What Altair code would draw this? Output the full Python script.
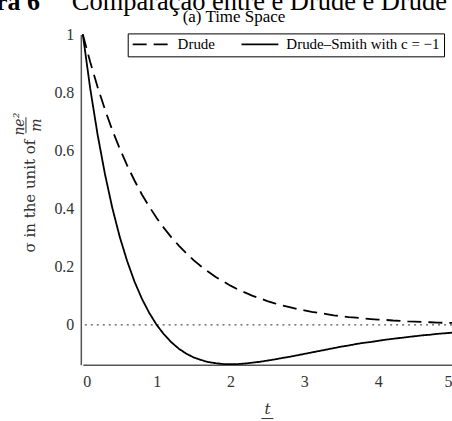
import altair as alt
import pandas as pd

t_vals = [round(i * 0.1, 1) for i in range(51)]

drude = [1.000, 0.905, 0.819, 0.741, 0.670, 0.607, 0.549, 0.497, 0.449, 0.407,
         0.368, 0.333, 0.301, 0.273, 0.247, 0.223, 0.202, 0.183, 0.165, 0.150,
         0.135, 0.122, 0.111, 0.100, 0.091, 0.082, 0.074, 0.067, 0.061, 0.055,
         0.050, 0.045, 0.041, 0.037, 0.033, 0.030, 0.027, 0.025, 0.022, 0.020,
         0.018, 0.017, 0.015, 0.014, 0.012, 0.011, 0.010, 0.009, 0.008, 0.007,
         0.007]

drude_smith = [1.000, 0.814, 0.655, 0.519, 0.402, 0.303, 0.220, 0.149, 0.090, 0.041,
               0.000, -0.033, -0.060, -0.082, -0.099, -0.112, -0.121, -0.128, -0.132, -0.135,
               -0.135, -0.135, -0.133, -0.130, -0.127, -0.123, -0.119, -0.114, -0.110, -0.105,
               -0.100, -0.095, -0.090, -0.085, -0.080, -0.075, -0.071, -0.066, -0.062, -0.059,
               -0.055, -0.051, -0.048, -0.045, -0.042, -0.039, -0.036, -0.034, -0.031, -0.029,
               -0.027]

series_names = ["Drude", "Drude\u2013Smith with c = \u22121"]
x_ticks = [0, 1, 2, 3, 4, 5]
y_ticks = [0, 0.2, 0.4, 0.6, 0.8, 1]

df = pd.DataFrame(
    {"t": t_vals * 2,
     "sigma": drude + drude_smith,
     "series": [series_names[0]] * len(t_vals) + [series_names[1]] * len(t_vals)}
)

SERIF = "Liberation Serif"

x_scale = alt.Scale(domain=[0, 5], nice=False)
y_scale = alt.Scale(domain=[-0.137, 1.0], nice=False)

lines = alt.Chart(df).mark_line(color="black", strokeWidth=1.8).encode(
    x=alt.X("t:Q", scale=x_scale,
            axis=alt.Axis(values=x_ticks, format="d", title=None, ticks=False, grid=False,
                          domainColor="#555", domainWidth=1.5, labelFont=SERIF,
                          labelFontSize=16, labelColor="#333", labelPadding=9)),
    y=alt.Y("sigma:Q", scale=y_scale,
            axis=alt.Axis(values=y_ticks, format="~g", title=None, ticks=False, grid=False,
                          domainColor="#555", domainWidth=1.5, labelFont=SERIF,
                          labelFontSize=16, labelColor="#333", labelPadding=7, offset=2)),
    strokeDash=alt.StrokeDash(
        "series:N",
        scale=alt.Scale(domain=series_names, range=[[14, 7], [1, 0]]),
        legend=alt.Legend(
            title=None, orient="none", legendX=45, legendY=-1, direction="horizontal",
            symbolType="stroke", symbolSize=1369, symbolStrokeWidth=1.8,
            symbolStrokeColor="black", labelFont=SERIF, labelFontSize=15,
            labelColor="black", strokeColor="black", padding=4, columnPadding=25,
            labelOffset=7, clipHeight=14),
    ),
)

zero = alt.Chart(pd.DataFrame({"y": [0]})).mark_rule(
    color="#555", strokeWidth=1.3, strokeDash=[2, 4]
).encode(y=alt.Y("y:Q", scale=y_scale))

def txt(s, x, y, size, angle=0, style="normal", weight="normal", align="center",
        baseline="middle", font=SERIF, color="black"):
    return alt.Chart(pd.DataFrame({"s": [s]})).mark_text(
        fontSize=size, angle=angle, fontStyle=style, fontWeight=weight, align=align,
        baseline=baseline, font=font, color=color
    ).encode(x=alt.value(x), y=alt.value(y), text="s:N")

big1 = txt("Figura 6", -43, -24, 26, weight="bold", align="right", baseline="alphabetic")
big2 = txt("Compara\u00e7\u00e3o entre e Drude e Drude Smith", -11, -24, 26.5, align="left",
           baseline="alphabetic")
sub = txt("(a) Time Space", 151.5, -12, 17, baseline="alphabetic")

ylab = txt("\u03c3 in the unit of", -53, 162, 15, angle=270, font="DejaVu Serif", color="#333")
ynum = txt("ne\u00b2", -63, 90, 14, angle=270, style="italic", font="DejaVu Serif", color="#333")
yden = txt("m", -46, 91, 14, angle=270, style="italic", font="DejaVu Serif", color="#333")
ybar = alt.Chart(pd.DataFrame({"a": [0]})).mark_rule(color="#333", strokeWidth=1).encode(
    x=alt.value(-57), y=alt.value(83), y2=alt.value(99))

xnum = txt("t", 185, 375, 15, style="italic", font="DejaVu Serif", color="#333")
xbar = alt.Chart(pd.DataFrame({"a": [0]})).mark_rule(color="#333", strokeWidth=1).encode(
    x=alt.value(179), x2=alt.value(191), y=alt.value(385))
xden = txt("\u03c4", 185, 394, 15, style="italic", font="DejaVu Serif", color="#333")

chart = alt.layer(
    zero, lines, big1, big2, sub, ylab, ynum, yden, ybar, xnum, xbar, xden
).properties(
    width=370, height=331,
    autosize=alt.AutoSizeParams(type="none"),
    padding={"left": 83, "top": 34, "right": 0, "bottom": 56},
).configure_view(stroke=None)

chart.save("out.html", embed_options={"renderer": "svg", "actions": False})
